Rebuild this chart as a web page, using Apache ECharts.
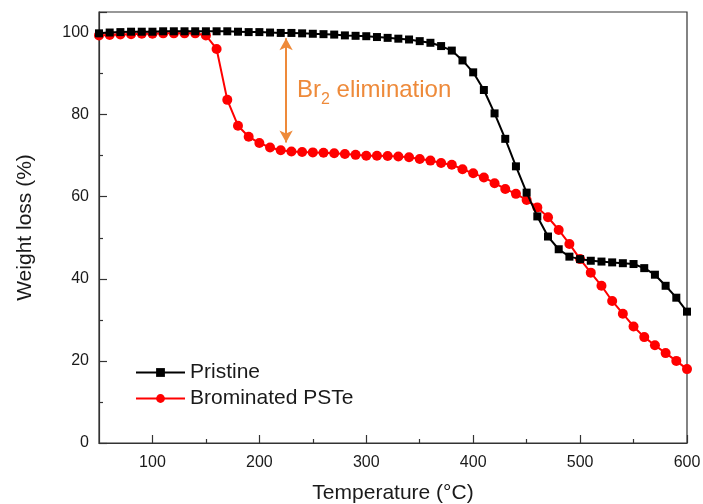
<!DOCTYPE html>
<html>
<head>
<meta charset="utf-8">
<script src="https://cdn.jsdelivr.net/npm/echarts@6/dist/echarts.min.js"></script>
<style>
  html, body { margin: 0; padding: 0; background: #fff; }
  #chart { width: 703px; height: 504px; }
</style>
</head>
<body>
<div id="chart"></div>
<script>
// Temperature steps (°C) for the TGA scans
const temperature = [50, 60, 70, 80, 90, 100, 110, 120, 130, 140, 150, 160, 170, 180, 190, 200,
  210, 220, 230, 240, 250, 260, 270, 280, 290, 300, 310, 320, 330, 340, 350, 360, 370, 380, 390, 400,
  410, 420, 430, 440, 450, 460, 470, 480, 490, 500, 510, 520, 530, 540, 550, 560, 570, 580, 590, 600];

// Remaining weight (%) of the pristine polymer
const pristine = [99.8, 100.0, 100.1, 100.2, 100.2, 100.2, 100.3, 100.3, 100.3, 100.3, 100.3, 100.3, 100.3, 100.2, 100.1, 100.1,
  100.0, 99.9, 99.9, 99.8, 99.7, 99.6, 99.5, 99.3, 99.2, 99.1, 98.9, 98.7, 98.5, 98.3, 97.9, 97.5, 96.7, 95.6, 93.2, 90.3,
  86.0, 80.3, 74.1, 67.4, 61.0, 55.2, 50.3, 47.2, 45.4, 44.8, 44.4, 44.2, 44.0, 43.8, 43.6, 42.6, 41.0, 38.3, 35.4, 32.0];

// Remaining weight (%) of the brominated polymer
const brominated = [99.3, 99.4, 99.5, 99.6, 99.7, 99.7, 99.8, 99.8, 99.8, 99.8, 99.3, 96.0, 83.6, 77.3, 74.6, 73.1,
  72.0, 71.3, 71.0, 70.9, 70.8, 70.7, 70.6, 70.4, 70.2, 70.0, 70.0, 69.9, 69.8, 69.6, 69.2, 68.8, 68.2, 67.8, 66.7, 65.7,
  64.7, 63.3, 61.9, 60.7, 59.2, 57.4, 55.0, 51.9, 48.5, 44.8, 41.5, 38.3, 34.6, 31.5, 28.4, 25.8, 23.8, 21.9, 20.0, 18.0];

const seriesNames = ['Pristine', 'Brominated PSTe'];
const xMajorTicks = [100, 200, 300, 400, 500, 600];
const xMinorTicks = [150, 250, 350, 450, 550];

// Br2 elimination span marked by the double arrow: [temperature, top, bottom]
const eliminationArrow = [225, 98.6, 73.2];

const FONT = '"Liberation Sans", Arial, sans-serif';
const ORANGE = '#EE8A3A';
const INK = '#1a1a1a';

const pair = (xs, ys) => xs.map((x, i) => [x, ys[i]]);

const chart = echarts.init(document.getElementById('chart'), null, { renderer: 'canvas' });

const baseX = {
  type: 'value', min: 50, max: 600,
  splitLine: { show: false }
};

chart.setOption({
  animation: false,
  backgroundColor: '#fff',
  textStyle: { fontFamily: FONT },
  grid: {
    left: 99, right: 16, top: 12, bottom: 61,
    containLabel: false, outerBoundsMode: 'none',
    show: true, borderColor: '#333', borderWidth: 1.2
  },
  legend: {
    data: seriesNames,
    orient: 'vertical',
    left: 130, top: 357,
    itemWidth: 49, itemHeight: 11, itemGap: 5,
    textStyle: { fontFamily: FONT, fontSize: 21, color: INK }
  },
  xAxis: [
    Object.assign({}, baseX, {
      position: 'bottom',
      name: 'Temperature (\u00B0C)',
      nameLocation: 'middle', nameGap: 40,
      nameTextStyle: { fontFamily: FONT, fontSize: 21, color: INK },
      axisLine: { onZero: false, lineStyle: { color: '#333', width: 1.2 } },
      axisTick: { inside: true, length: 8, lineStyle: { color: '#333', width: 1.2 }, customValues: xMajorTicks },
      axisLabel: { fontFamily: FONT, fontSize: 16, color: INK, margin: 12, customValues: xMajorTicks }
    }),
    Object.assign({}, baseX, {
      position: 'bottom',
      axisLine: { show: false, onZero: false },
      axisTick: { inside: true, length: 4, lineStyle: { color: '#333', width: 1.2 }, customValues: xMinorTicks },
      axisLabel: { show: false }
    })
  ],
  yAxis: {
    type: 'value', min: 0, max: 105, interval: 20,
    name: 'Weight loss (%)',
    nameLocation: 'middle', nameGap: 63,
    nameTextStyle: { fontFamily: FONT, fontSize: 21, color: INK },
    splitLine: { show: false },
    axisLine: { onZero: false, lineStyle: { color: '#333', width: 1.2 } },
    axisTick: { inside: true, length: 8, lineStyle: { color: '#333', width: 1.2 } },
    minorTick: { show: true, splitNumber: 2, length: 4, lineStyle: { color: '#333', width: 1.2 } },
    axisLabel: { fontFamily: FONT, fontSize: 16, color: INK, margin: 10, showMaxLabel: false }
  },
  series: [
    {
      name: seriesNames[0], type: 'line', xAxisIndex: 0,
      data: pair(temperature, pristine),
      symbol: 'rect', symbolSize: 8,
      itemStyle: { color: '#000' },
      lineStyle: { color: '#000', width: 2 },
      z: 3,
      markLine: {
        silent: true,
        symbol: ['arrow', 'arrow'], symbolSize: [10, 12],
        lineStyle: { color: ORANGE, width: 2, type: 'solid' },
        label: { show: false },
        data: [[
          { coord: [eliminationArrow[0], eliminationArrow[1]] },
          { coord: [eliminationArrow[0], eliminationArrow[2]] }
        ]]
      }
    },
    {
      name: seriesNames[1], type: 'line', xAxisIndex: 0,
      data: pair(temperature, brominated),
      symbol: 'circle', symbolSize: 10,
      itemStyle: { color: '#ff0000' },
      lineStyle: { color: '#ff0000', width: 2 },
      z: 2
    }
  ],
  graphic: [{
    type: 'text', left: 297, top: 78,
    style: {
      text: '{a|Br}{s|2}{a| elimination}',
      rich: {
        a: { fontFamily: FONT, fontSize: 24, fill: ORANGE, verticalAlign: 'bottom' },
        s: { fontFamily: FONT, fontSize: 16, fill: ORANGE, verticalAlign: 'bottom', padding: [0, 0, -6, 0] }
      }
    }
  }]
});
</script>
</body>
</html>
